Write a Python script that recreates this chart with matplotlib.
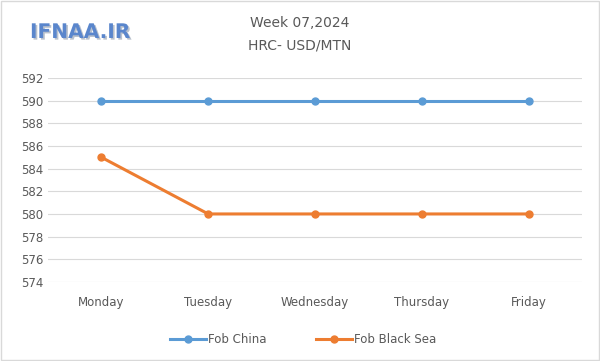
import matplotlib.pyplot as plt
import matplotlib.patheffects as pe
from matplotlib.patches import Rectangle

days = ["Monday", "Tuesday", "Wednesday", "Thursday", "Friday"]
fob_china = [590, 590, 590, 590, 590]
fob_black_sea = [585, 580, 580, 580, 580]
y_ticks = [574, 576, 578, 580, 582, 584, 586, 588, 590, 592]

BLUE = "#5B9BD5"
ORANGE = "#ED7D31"
TEXT = "#595959"

fig = plt.figure(figsize=(6, 3.61), dpi=100)
ax = fig.add_axes([0.08, 0.219, 0.89, 0.565])

x = range(len(days))
ax.plot(x, fob_china, color=BLUE, lw=2.2, marker="o", ms=5, label="Fob China")
ax.plot(x, fob_black_sea, color=ORANGE, lw=2.2, marker="o", ms=5, label="Fob Black Sea")

ax.set_xlim(-0.5, len(days) - 0.5)
ax.set_ylim(574, 592)
ax.set_yticks(y_ticks)
ax.set_xticks(list(x))
ax.set_xticklabels(days)
ax.grid(axis="y", color="#D9D9D9", lw=0.8)
ax.set_axisbelow(True)
for s in ax.spines.values():
    s.set_visible(False)
ax.tick_params(length=0, colors=TEXT, labelsize=8.5)
ax.tick_params(axis="x", pad=10)

fig.text(0.5, 0.935, "Week 07,2024", ha="center", va="center", fontsize=10, color=TEXT)
fig.text(0.5, 0.875, "HRC- USD/MTN", ha="center", va="center", fontsize=10, color=TEXT)

fig.text(0.05, 0.91, "IFNAA.IR", ha="left", va="center", fontsize=14.5, color="#5A86CC",
         fontweight="bold",
         path_effects=[pe.withSimplePatchShadow(offset=(1.2, -1.2), shadow_rgbFace="#A8B2C0", alpha=0.8)])

ax.legend(loc="upper center", bbox_to_anchor=(0.478, -0.2), ncol=2, frameon=False,
          fontsize=8.5, labelcolor=TEXT, columnspacing=4.2, handlelength=3.0, handletextpad=0.2)

fig.patches.append(Rectangle((0.002, 0.003), 0.996, 0.994, transform=fig.transFigure,
                             fill=False, edgecolor="#D9D9D9", lw=1))

fig.savefig("out.png", dpi=100)
